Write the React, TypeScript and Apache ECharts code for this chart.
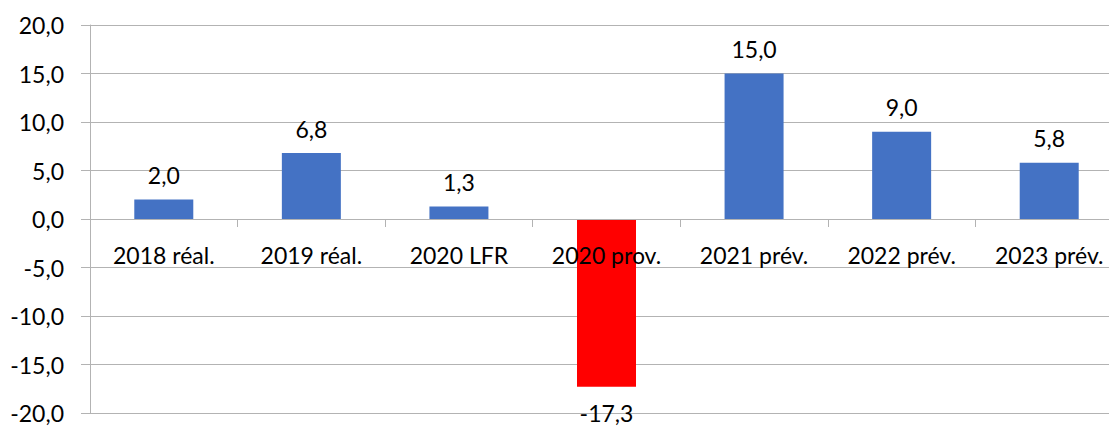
import React, { useEffect, useRef } from "react";
import * as echarts from "echarts";

const categories = ["2018 réal.", "2019 réal.", "2020 LFR", "2020 prov.", "2021 prév.", "2022 prév.", "2023 prév."];
const values = [2.0, 6.8, 1.3, -17.3, 15.0, 9.0, 5.8];
const barColors = ["#4472C4", "#4472C4", "#4472C4", "#FF0000", "#4472C4", "#4472C4", "#4472C4"];
const yMin = -20;
const yMax = 20;
const yStep = 5;

const fmt = (v: number) => v.toFixed(1).replace(".", ",");
const FONT = "Lato, 'Open Sans', sans-serif";

export default function App() {
  const ref = useRef<HTMLDivElement>(null);
  useEffect(() => {
    document.body.style.margin = "0";
    if (!ref.current) return;
    const chart = echarts.init(ref.current, null, { renderer: "svg" });
    chart.setOption({
      animation: false,
      backgroundColor: "#ffffff",
      grid: { left: 90, top: 25, width: 1033, height: 388, containLabel: false, outerBoundsMode: "none" },
      xAxis: {
        type: "category",
        data: categories,
        z: 5,
        axisLine: { onZero: true, lineStyle: { color: "#b3b3b3", width: 1 } },
        axisTick: { show: true, length: 8, lineStyle: { color: "#b3b3b3" } },
        axisLabel: { color: "#000", fontSize: 23, fontFamily: FONT, margin: -170 },
        splitLine: { show: false },
      },
      yAxis: {
        type: "value",
        min: yMin,
        max: yMax,
        interval: yStep,
        axisLine: { show: true, lineStyle: { color: "#b3b3b3", width: 1 } },
        axisTick: { show: true, length: 9, lineStyle: { color: "#b3b3b3" } },
        axisLabel: { color: "#000", fontSize: 23, fontFamily: FONT, margin: 26, formatter: (v: number) => fmt(v) },
        splitLine: { show: true, lineStyle: { color: "#b3b3b3", width: 1 } },
      },
      series: [
        {
          type: "bar",
          barWidth: 59,
          z: 2,
          data: values.map((v, i) => ({
            value: v,
            itemStyle: { color: barColors[i] },
            label: { position: v < 0 ? "bottom" : "top", distance: v < 0 ? 15 : 13 },
          })),
          label: {
            show: true,
            color: "#000",
            fontSize: 23,
            fontFamily: FONT,
            formatter: (p: any) => fmt(p.value),
          },
        },
      ],
    });
    return () => chart.dispose();
  }, []);
  return <div ref={ref} style={{ width: 1109, height: 426 }} />;
}
